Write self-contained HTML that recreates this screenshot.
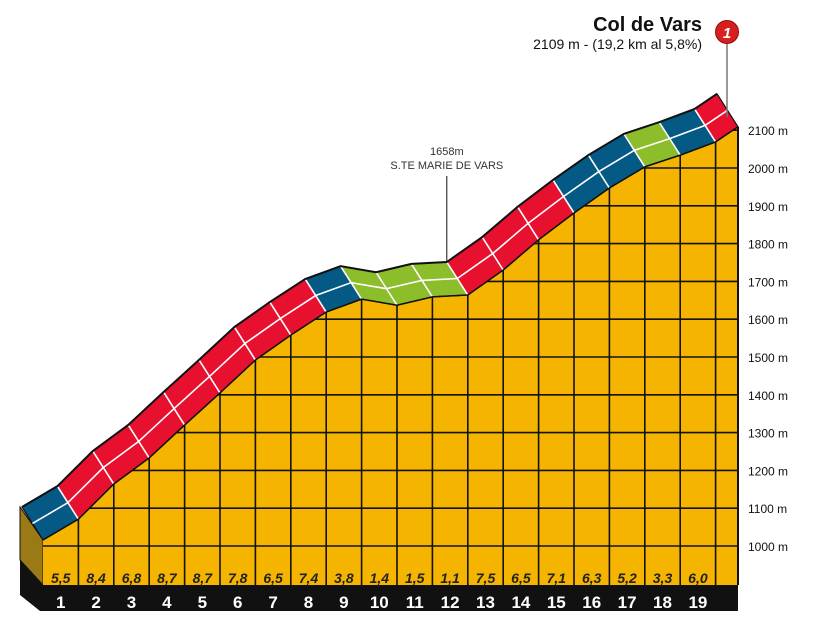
<!DOCTYPE html>
<html><head><meta charset="utf-8"><style>
body{margin:0;background:#fff;width:821px;height:618px;overflow:hidden;font-family:"Liberation Sans",sans-serif}
svg{display:block}
</style></head><body>
<svg id="c" width="821" height="618">
<defs><clipPath id="clip"><polygon id="clipPoly"/></clipPath></defs>
<g id="g"></g>
</svg>
<script>
const kmLabels=["1","2","3","4","5","6","7","8","9","10","11","12","13","14","15","16","17","18","19"];
const gradients=["5,5","8,4","6,8","8,7","8,7","7,8","6,5","7,4","3,8","1,4","1,5","1,1","7,5","6,5","7,1","6,3","5,2","3,3","6,0"];
const segClass=["blue","red","red","red","red","red","red","red","blue","green","green","green","red","red","red","blue","blue","green","blue","red"];
const kms=[0,1,2,3,4,5,6,7,8,9,10,11,12,13,14,15,16,17,18,19,19.2];
const elev=[1016,1071,1164,1233,1320,1405,1492,1558,1619,1653,1637,1659,1664,1730,1810,1881,1947,2003,2034,2069,2109];
const yTicks=[1000,1100,1200,1300,1400,1500,1600,1700,1800,1900,2000,2100];
const NS="http://www.w3.org/2000/svg";
const g=document.getElementById('g');
function x(km){return km<=19?43+km*35.4:43+19*35.4+(km-19)/0.2*(738-43-19*35.4);}
function y(h){return 546-(h-1000)*0.378;}
function el(t,a,p){const e=document.createElementNS(NS,t);for(const k in a)e.setAttribute(k,a[k]);(p||g).appendChild(e);return e;}
const base=585,dx=-21,dy=-33;
const cols={red:"#e8102f",blue:"#045a85",green:"#8cbd2a"};
const pts=kms.map((k,i)=>[x(k),y(elev[i])]);
const polyStr=pts.map(p=>p.join(',')).join(' ')+` ${x(19.2)},${base} 43,${base}`;
document.getElementById('clipPoly').setAttribute('points',polyStr);
// left 3D side
let e=el('polygon',{points:`20,${pts[0][1]+dy} 43,${pts[0][1]} 43,${base} 20,${base-25}`,fill:"#9a7a14",stroke:"#111","stroke-width":1});

e=el('polygon',{points:`20,${base-25} 43,${base} 43,611 40,611 20,${base+10}`,fill:"#111"});

e=el('rect',{x:43,y:base,width:x(19.2)-43,height:26,fill:"#111"});

// yellow area
e=el('polygon',{points:polyStr,fill:"#f5b400"});

const gg=el('g',{"clip-path":"url(#clip)",stroke:"#111","stroke-width":1.6});
yTicks.forEach(h=>{const l=el('line',{x1:43,x2:738,y1:y(h),y2:y(h)},gg);});
for(let i=1;i<=19;i++){const l=el('line',{x1:x(i),x2:x(i),y1:0,y2:base},gg);}
e=el('line',{x1:738,x2:738,y1:pts[20][1],y2:base,stroke:"#111","stroke-width":2});

// ribbon segments
for(let i=0;i<20;i++){const a=pts[i],b=pts[i+1];
 const s=el('polygon',{points:`${a[0]},${a[1]} ${b[0]},${b[1]} ${b[0]+dx},${b[1]+dy} ${a[0]+dx},${a[1]+dy}`,fill:cols[segClass[i]],stroke:"#111","stroke-width":1.2,"stroke-linejoin":"round"});
 
 }
// white lines
let mid=pts.map(p=>(p[0]+dx/2)+','+(p[1]+dy/2)).join(' ');
e=el('polyline',{points:mid,fill:"none",stroke:"#fff","stroke-width":1.6});

for(let i=1;i<20;i++){const p=pts[i];const l=el('line',{x1:p[0],y1:p[1],x2:p[0]+dx,y2:p[1]+dy,stroke:"#fff","stroke-width":1.6});}
e=el('polyline',{points:pts.map(p=>(p[0]+dx)+','+(p[1]+dy)).join(' '),fill:"none",stroke:"#111","stroke-width":2});

e=el('polyline',{points:pts.map(p=>p.join(',')).join(' '),fill:"none",stroke:"#111","stroke-width":1.5});

// labels
for(let i=0;i<19;i++){const cx=(x(i)+x(i+1))/2;
 const t=el('text',{x:cx,y:583,"text-anchor":"middle","font-size":14,"font-weight":"bold","font-style":"italic",fill:"#222"});t.textContent=gradients[i];
 
 const k=el('text',{x:cx,y:608,"text-anchor":"middle","font-size":17,"font-weight":"bold",fill:"#fff"});k.textContent=kmLabels[i];
 }
yTicks.forEach(h=>{const t=el('text',{x:748,y:y(h)+5,"font-size":12,fill:"#111"});t.textContent=h+' m';});
// waypoint
const wx=x(12)+dx,wy=pts[12][1]+dy;
e=el('line',{x1:wx,x2:wx,y1:176,y2:wy,stroke:"#111","stroke-width":1});
e=el('text',{x:wx,y:155,"text-anchor":"middle","font-size":11,fill:"#333"});e.textContent="1658m";
e=el('text',{x:wx,y:169,"text-anchor":"middle","font-size":11,fill:"#333"});e.textContent="S.TE MARIE DE VARS";
// summit
e=el('line',{x1:727,x2:727,y1:40,y2:pts[20][1]-10,stroke:"#777","stroke-width":1.5});
e=el('circle',{cx:727,cy:32,r:11.5,fill:"#d81e1e",stroke:"#8a0f0f","stroke-width":1});
e=el('text',{x:727,y:38,"text-anchor":"middle","font-size":15,"font-weight":"bold","font-style":"italic",fill:"#fff"});e.textContent="1";
e=el('text',{x:702,y:31,"text-anchor":"end","font-size":20,"font-weight":"bold",fill:"#111"});e.textContent="Col de Vars";
e=el('text',{x:702,y:49,"text-anchor":"end","font-size":14,fill:"#111"});e.textContent="2109 m - (19,2 km al 5,8%)";
</script>
</body></html>
